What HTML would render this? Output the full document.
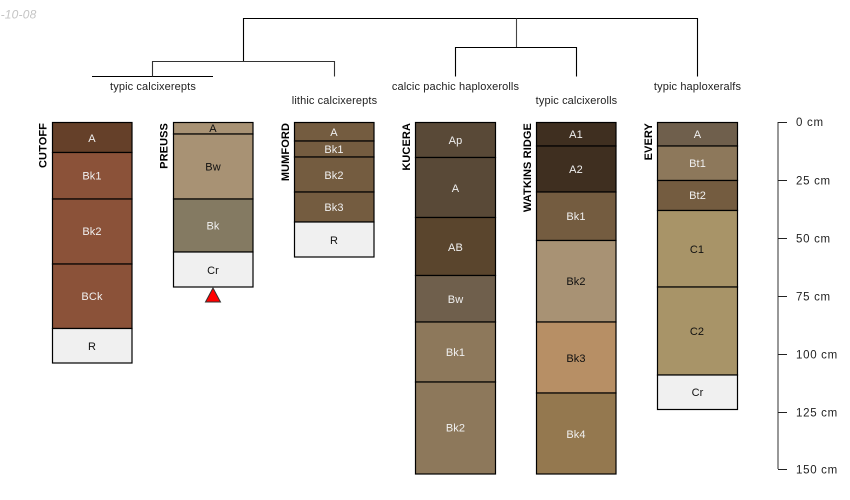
<!DOCTYPE html>
<html><head><meta charset="utf-8"><style>
html,body{margin:0;padding:0;background:#fff;width:850px;height:500px;overflow:hidden}
svg{display:block}
text{font-family:"Liberation Sans",sans-serif;font-size:11px;text-anchor:middle;letter-spacing:.12px}
.l{fill:#f0f0f0}.d{fill:#111}
.t{fill:#222}
.n{font-weight:bold;fill:#000;font-size:11px;text-anchor:end;letter-spacing:.1px}
.s{fill:#222;text-anchor:start;font-size:11.5px;letter-spacing:.7px}
rect{stroke:#000;stroke-width:1.2}
</style></head><body>
<svg width="850" height="500" viewBox="0 0 850 500" xmlns="http://www.w3.org/2000/svg">
<text x="36.500" y="18.500" style="font-size:12px;font-style:italic;fill:#c4c4c4;text-anchor:end;letter-spacing:.2px">-10-08</text>
<g fill="none" stroke="#000" stroke-width="1.100">
<path d="M243.500 62V18.500H697.500V76.500"/>
<path d="M92 76.500H213"/>
<path d="M152.500 76.500V61.500H334.500V76.500" stroke="#333"/>
<path d="M516.500 18.500V47" stroke="#444"/>
<path d="M455.500 76.500V47.500H576.500V76.500"/>
</g>
<text class="t" x="153" y="90">typic calcixerepts</text>
<text class="t" x="334.500" y="104">lithic calcixerepts</text>
<text class="t" x="455.500" y="90">calcic pachic haploxerolls</text>
<text class="t" x="576.500" y="104">typic calcixerolls</text>
<text class="t" x="697.500" y="90">typic haploxeralfs</text>

<!-- CUTOFF -->
<rect x="52.500" y="122.500" width="79.500" height="30" fill="#654029"/>
<rect x="52.500" y="152.500" width="79.500" height="46.500" fill="#8b5239"/>
<rect x="52.500" y="199" width="79.500" height="65" fill="#8b5239"/>
<rect x="52.500" y="264" width="79.500" height="64.500" fill="#8b5239"/>
<rect x="52.500" y="328.500" width="79.500" height="34.500" fill="#f0f0f0"/>
<text class="n" transform="translate(46.500 123) rotate(-90)">CUTOFF</text>
<text class="l" x="92" y="142">A</text><text class="l" x="92" y="179.500">Bk1</text><text class="l" x="92" y="235">Bk2</text><text class="l" x="92" y="300">BCk</text><text class="d" x="92" y="350">R</text>

<!-- PREUSS -->
<rect x="173.500" y="122.500" width="79.500" height="11.500" fill="#a89274"/>
<rect x="173.500" y="134" width="79.500" height="65" fill="#a89274"/>
<rect x="173.500" y="199" width="79.500" height="53" fill="#847a62"/>
<rect x="173.500" y="252" width="79.500" height="35" fill="#f0f0f0"/>
<text class="n" transform="translate(167.500 123) rotate(-90)">PREUSS</text>
<text class="d" x="213" y="132">A</text><text class="d" x="213" y="170.500">Bw</text><text class="l" x="213" y="229.500">Bk</text><text class="d" x="213" y="274">Cr</text>
<polygon points="213,288 205.500,302 220.500,302" fill="#f00" stroke="#333" stroke-width="1"/>

<!-- MUMFORD -->
<rect x="294.500" y="122.500" width="79.500" height="18.500" fill="#745c40"/>
<rect x="294.500" y="141" width="79.500" height="16" fill="#745c40"/>
<rect x="294.500" y="157" width="79.500" height="35" fill="#745c40"/>
<rect x="294.500" y="192" width="79.500" height="30" fill="#745c40"/>
<rect x="294.500" y="222" width="79.500" height="35" fill="#f0f0f0"/>
<text class="n" transform="translate(289 123) rotate(-90)">MUMFORD</text>
<text class="l" x="334" y="136">A</text><text class="l" x="334" y="153">Bk1</text><text class="l" x="334" y="179">Bk2</text><text class="l" x="334" y="211">Bk3</text><text class="d" x="334" y="244">R</text>

<!-- KUCERA -->
<rect x="415.500" y="122.500" width="80" height="35" fill="#594937"/>
<rect x="415.500" y="157.500" width="80" height="60" fill="#594937"/>
<rect x="415.500" y="217.500" width="80" height="58" fill="#5a452d"/>
<rect x="415.500" y="275.500" width="80" height="46.500" fill="#6f5f4c"/>
<rect x="415.500" y="322" width="80" height="60" fill="#8d785b"/>
<rect x="415.500" y="382" width="80" height="92" fill="#8d785b"/>
<text class="n" transform="translate(410 123) rotate(-90)">KUCERA</text>
<text class="l" x="455.500" y="144">Ap</text><text class="l" x="455.500" y="192">A</text><text class="l" x="455.500" y="251">AB</text><text class="l" x="455.500" y="303">Bw</text><text class="l" x="455.500" y="356">Bk1</text><text class="l" x="455.500" y="431.500">Bk2</text>

<!-- WATKINS RIDGE -->
<rect x="536.500" y="122.500" width="79.500" height="23.500" fill="#3f2f20"/>
<rect x="536.500" y="146" width="79.500" height="46" fill="#3f2f20"/>
<rect x="536.500" y="192" width="79.500" height="48.500" fill="#745c40"/>
<rect x="536.500" y="240.500" width="79.500" height="81.500" fill="#a89274"/>
<rect x="536.500" y="322" width="79.500" height="71" fill="#b78f65"/>
<rect x="536.500" y="393" width="79.500" height="81" fill="#94784f"/>
<text class="n" transform="translate(531 123) rotate(-90)">WATKINS RIDGE</text>
<text class="l" x="576" y="138">A1</text><text class="l" x="576" y="173">A2</text><text class="l" x="576" y="220">Bk1</text><text class="d" x="576" y="285">Bk2</text><text class="d" x="576" y="362">Bk3</text><text class="l" x="576" y="438">Bk4</text>

<!-- EVERY -->
<rect x="657.500" y="122.500" width="80" height="23.500" fill="#6f5f4c"/>
<rect x="657.500" y="146" width="80" height="34.500" fill="#8d785b"/>
<rect x="657.500" y="180.500" width="80" height="30" fill="#745c40"/>
<rect x="657.500" y="210.500" width="80" height="76.500" fill="#a89468"/>
<rect x="657.500" y="287" width="80" height="88" fill="#a89468"/>
<rect x="657.500" y="375" width="80" height="34.500" fill="#f0f0f0"/>
<text class="n" transform="translate(652 123) rotate(-90)">EVERY</text>
<text class="l" x="697.500" y="138">A</text><text class="l" x="697.500" y="167">Bt1</text><text class="l" x="697.500" y="199">Bt2</text><text class="d" x="697" y="253">C1</text><text class="d" x="697" y="335">C2</text><text class="d" x="697.500" y="396">Cr</text>

<!-- scale -->
<path d="M778 122V469" stroke="#777" stroke-width="1.500" fill="none"/>
<path d="M778 122.500H787M778 180.500H787M778 238.500H787M778 296.500H787M778 354.500H787M778 412.500H787M778 469.500H787" stroke="#222" stroke-width="1" fill="none"/>
<text class="s" x="796" y="126">0 cm</text>
<text class="s" x="796" y="184.500">25 cm</text>
<text class="s" x="796" y="242.500">50 cm</text>
<text class="s" x="796" y="300.500">75 cm</text>
<text class="s" x="796" y="358.500">100 cm</text>
<text class="s" x="796" y="416.500">125 cm</text>
<text class="s" x="796" y="473.500">150 cm</text>
</svg>
</body></html>
